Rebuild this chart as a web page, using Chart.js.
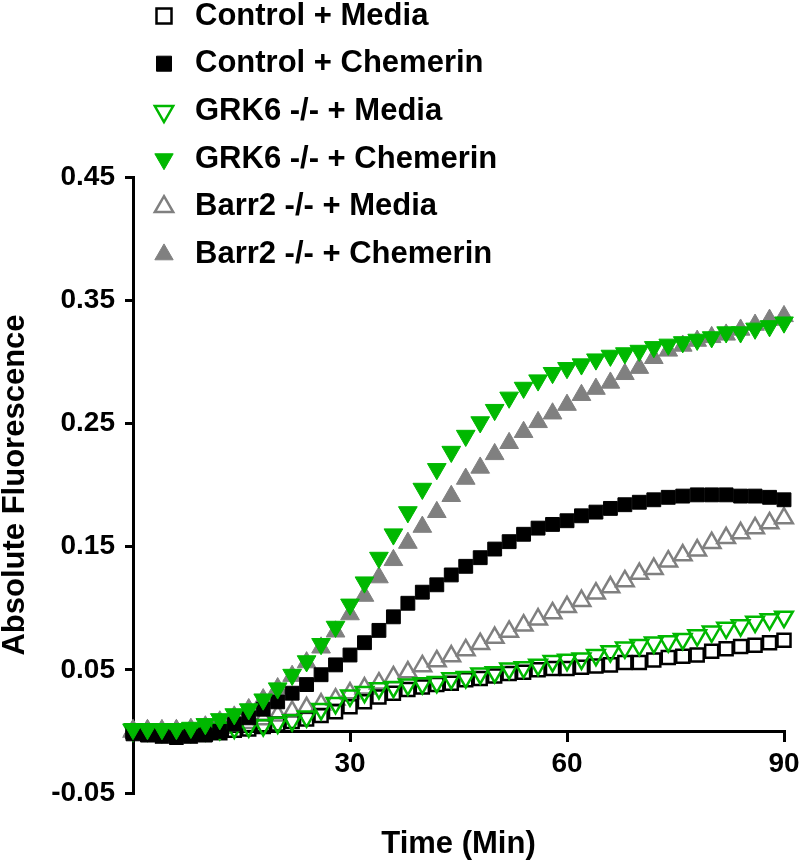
<!DOCTYPE html>
<html>
<head>
<meta charset="utf-8">
<script src="https://cdn.jsdelivr.net/npm/chart.js"></script>
<style>
html,body{margin:0;padding:0;background:#fff;}
#wrap{width:800px;height:864px;}
</style>
</head>
<body>
<div id="wrap"><canvas id="c" width="800" height="864"></canvas></div>
<script>
// ---- data ----
const times = [0,2,4,6,8,10,12,14,16,18,20,22,24,26,28,30,32,34,36,38,40,42,44,46,48,50,52,54,56,58,60,62,64,66,68,70,72,74,76,78,80,82,84,86,88,90];

const seriesLabels = ['Control + Media','Control + Chemerin','GRK6 -/- + Media','GRK6 -/- + Chemerin','Barr2 -/- + Media','Barr2 -/- + Chemerin'];

const controlMedia = [0.000,-0.001,-0.002,-0.002,-0.002,-0.002,-0.001,0.001,0.002,0.004,
  0.006,0.008,0.010,0.013,0.016,0.020,0.024,0.028,0.031,0.034,
  0.036,0.038,0.039,0.042,0.043,0.045,0.047,0.048,0.050,0.051,
  0.051,0.052,0.053,0.054,0.056,0.056,0.058,0.060,0.061,0.062,
  0.065,0.067,0.069,0.070,0.072,0.074];

const controlChemerin = [-0.002,-0.003,-0.004,-0.005,-0.004,-0.003,0.000,0.006,0.011,0.018,
  0.024,0.031,0.038,0.046,0.054,0.062,0.072,0.082,0.093,0.104,
  0.113,0.119,0.127,0.134,0.141,0.148,0.154,0.160,0.165,0.168,
  0.171,0.175,0.178,0.181,0.184,0.186,0.188,0.190,0.191,0.192,
  0.192,0.192,0.191,0.191,0.190,0.188];

const grk6Media = [0.001,0.001,0.000,0.000,0.000,0.001,0.002,0.003,0.004,0.005,
  0.007,0.009,0.012,0.018,0.023,0.029,0.032,0.035,0.036,0.038,
  0.039,0.040,0.043,0.044,0.047,0.048,0.051,0.052,0.054,0.057,
  0.058,0.059,0.062,0.065,0.068,0.070,0.072,0.073,0.075,0.078,
  0.081,0.084,0.086,0.089,0.091,0.093];

const grk6Chemerin = [0.002,0.002,0.002,0.002,0.003,0.006,0.010,0.014,0.018,0.026,
  0.035,0.046,0.057,0.071,0.085,0.103,0.121,0.141,0.160,0.178,
  0.197,0.213,0.227,0.240,0.251,0.261,0.271,0.279,0.285,0.291,
  0.295,0.298,0.302,0.305,0.307,0.309,0.312,0.314,0.316,0.318,
  0.320,0.324,0.324,0.327,0.329,0.332];

const barr2Media = [0.000,0.000,-0.001,0.000,0.000,0.001,0.003,0.005,0.007,0.010,
  0.013,0.016,0.019,0.022,0.026,0.031,0.035,0.039,0.044,0.048,
  0.053,0.057,0.061,0.066,0.071,0.076,0.081,0.086,0.091,0.096,
  0.101,0.106,0.112,0.117,0.122,0.128,0.132,0.138,0.143,0.147,
  0.153,0.157,0.161,0.165,0.169,0.173];

const barr2Chemerin = [0.001,0.001,0.001,0.001,0.002,0.004,0.008,0.012,0.018,0.026,
  0.035,0.045,0.056,0.068,0.081,0.095,0.110,0.125,0.139,0.153,
  0.166,0.178,0.191,0.205,0.214,0.225,0.234,0.243,0.251,0.258,
  0.265,0.273,0.278,0.283,0.290,0.295,0.303,0.309,0.313,0.317,
  0.320,0.322,0.326,0.330,0.334,0.337];

const xTickValues = [30, 60, 90];
const yTickValues = [-0.05, 0.05, 0.15, 0.25, 0.35, 0.45];

// ---- styling ----
const FONT = "'Liberation Sans', Arial, Helvetica, sans-serif";
const GREEN = '#00b800';
const GREY = '#808080';
const BLACK = '#000000';
const NONE = 'rgba(0,0,0,0)';

function pts(vals){ return times.map((t,i)=>({x:t, y:vals[i]})); }

function ds(label, vals, style, rot, fill, stroke, bw, radius, order){
  return {
    label: label,
    data: pts(vals),
    showLine: false,
    pointStyle: style,
    pointRotation: rot,
    pointRadius: radius,
    pointHoverRadius: radius,
    pointBackgroundColor: fill,
    pointBorderColor: stroke,
    pointBorderWidth: bw,
    backgroundColor: fill,
    borderColor: stroke,
    clip: false,
    order: order
  };
}

const datasets = [
  ds(seriesLabels[0], controlMedia,   'rect',     0,   NONE,  BLACK, 2.5, 9.2, 3),
  ds(seriesLabels[1], controlChemerin,'rect',     0,   BLACK, BLACK, 1,   9.8, 1),
  ds(seriesLabels[2], grk6Media,      'triangle', 180, NONE,  GREEN, 2.5, 10.2, 2),
  ds(seriesLabels[3], grk6Chemerin,   'triangle', 180, GREEN, GREEN, 1,   10.8, 0),
  ds(seriesLabels[4], barr2Media,     'triangle', 0,   NONE,  GREY,  2.5, 10.2, 5),
  ds(seriesLabels[5], barr2Chemerin,  'triangle', 0,   GREY,  GREY,  1,   10.8, 4)
];

const legendPlacer = {
  id: 'legendPlacer',
  afterLayout(chart){
    const lg = chart.legend;
    if (!lg) return;
    lg.left = 131.8; lg.top = -16.2;
    lg.width = 520; lg.height = 420;
    lg.right = lg.left + lg.width; lg.bottom = lg.top + lg.height;
  }
};

new Chart(document.getElementById('c'), {
  type: 'scatter',
  data: { datasets: datasets },
  plugins: [legendPlacer],
  options: {
    responsive: false,
    animation: false,
    layout: { padding: { left: 0, right: 16, top: 177, bottom: 71 } },
    plugins: {
      tooltip: { enabled: false },
      legend: {
        display: true,
        position: 'chartArea',
        align: 'start',
        labels: {
          usePointStyle: true,
          boxHeight: 15,
          boxWidth: 31,
          padding: 16.7,
          color: '#000',
          font: { family: FONT, size: 31, weight: 'bold' },
          sort: (a, b) => a.datasetIndex - b.datasetIndex
        }
      }
    },
    scales: {
      x: {
        type: 'linear',
        min: 0, max: 90,
        position: { y: 0 },
        afterBuildTicks: s => { s.ticks = xTickValues.map(v => ({ value: v })); },
        afterFit: s => { s.height = 71; s.paddingLeft = 0; s.paddingRight = 0; },
        ticks: { color: '#000', padding: 7, maxRotation: 0, autoSkip: false,
                 font: { family: FONT, size: 28, weight: 'bold' },
                 callback: v => String(v) },
        grid: { display: true, drawOnChartArea: false, drawTicks: true, tickLength: 9, color: '#000', lineWidth: 3 },
        border: { display: true, color: '#000', width: 3 },
        title: { display: true, text: 'Time (Min)', color: '#000',
                 font: { family: FONT, size: 31, weight: 'bold', lineHeight: 1 },
                 padding: { top: 0, bottom: -58 } }
      },
      y: {
        type: 'linear',
        min: -0.05, max: 0.45,
        position: 'left',
        afterBuildTicks: s => { s.ticks = yTickValues.map(v => ({ value: v })); },
        afterFit: s => { s.width = 133; },
        ticks: { color: '#000', padding: 10, autoSkip: false,
                 font: { family: FONT, size: 28, weight: 'bold' },
                 callback: v => Number(v).toFixed(2) },
        grid: { display: true, drawOnChartArea: false, drawTicks: true, tickLength: 8, color: '#000', lineWidth: 3 },
        border: { display: true, color: '#000', width: 3 },
        title: { display: true, text: 'Absolute Fluorescence', color: '#000',
                 font: { family: FONT, size: 31, weight: 'bold', lineHeight: 1 },
                 padding: { top: 0, bottom: 0 } }
      }
    }
  }
});
</script>
</body>
</html>
